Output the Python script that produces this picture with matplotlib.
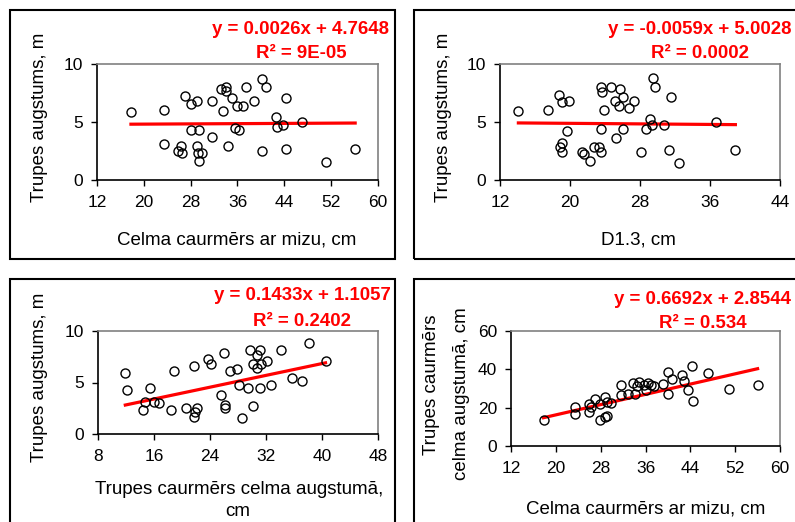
from matplotlib import pyplot as plt
from matplotlib.patches import Rectangle
import numpy as np

plt.rcParams['font.family'] = ['Liberation Sans', 'DejaVu Sans']

# panel 1: celma caurmers ar mizu vs trupes augstums
p1_x = [17.8, 23.5, 23.5, 25.9, 26.3, 26.6, 27.1, 28.0, 28.0, 29.0, 29.35, 29.0, 29.3, 29.35,
        29.9, 31.6, 31.6, 33.1, 33.5, 34.1, 34.1, 34.4, 35.0, 35.5, 35.9, 36.2, 36.9, 37.5,
        38.9, 40.1, 40.2, 40.8, 42.5, 42.8, 43.8, 44.2, 44.3, 47.0, 51.1, 56.1]
p1_y = [5.82, 6.02, 3.11, 2.5, 2.97, 2.33, 7.23, 6.57, 4.32, 6.8, 4.32, 2.97, 2.33, 1.67,
        2.33, 6.8, 3.72, 7.84, 5.99, 8.04, 7.67, 2.97, 7.03, 4.5, 6.34, 4.35, 6.34, 8.01,
        6.8, 8.73, 2.54, 8.01, 5.42, 4.58, 4.75, 7.06, 2.65, 5.04, 1.58, 2.65]

# panel 2: D1.3 vs trupes augstums
p2_x = [14.1, 17.5, 18.7, 19.05, 19.9, 19.7, 19.05, 18.86, 19.05, 21.4, 21.6, 22.3, 22.7, 23.35,
        23.5, 23.5, 23.5, 23.7, 23.9, 24.7, 25.1, 25.3, 25.6, 25.7, 26.1, 26.1, 26.7, 27.3,
        28.15, 28.7, 29.1, 29.4, 29.5, 29.7, 30.7, 31.3, 31.5, 32.4, 36.7, 38.9]
p2_y = [5.91, 6.05, 7.29, 6.69, 6.83, 4.24, 3.23, 2.88, 2.39, 2.45, 2.28, 1.67, 2.88, 2.88,
        2.42, 4.41, 8.04, 7.58, 6.05, 8.04, 6.83, 3.63, 6.34, 7.84, 7.12, 4.41, 6.22, 6.83,
        2.42, 4.41, 5.30, 4.73, 8.76, 8.01, 4.73, 2.59, 7.12, 1.50, 4.99, 2.59]

# panel 3: trupes caurmers celma augstuma vs trupes augstums
p3_x = [11.9, 12.2, 14.4, 14.7, 15.4, 16.0, 16.7, 18.4, 18.9, 20.5, 21.7, 21.8, 21.7, 22.2,
        23.7, 24.2, 25.6, 25.95, 26.2, 26.2, 26.9, 27.8, 28.2, 28.5, 29.4, 29.7, 30.1, 30.1,
        30.7, 30.7, 31.2, 31.3, 31.2, 32.1, 32.7, 34.2, 35.7, 37.2, 38.1, 40.5]
p3_y = [5.97, 4.26, 2.35, 3.13, 4.42, 3.13, 3.0, 2.35, 6.13, 2.55, 6.65, 2.16, 1.68, 2.55,
        7.32, 6.81, 3.77, 7.84, 2.81, 2.55, 6.1, 6.29, 4.74, 1.55, 4.42, 8.13, 6.84, 2.74,
        7.68, 6.42, 8.13, 6.84, 4.42, 7.13, 4.74, 8.13, 5.45, 5.13, 8.84, 7.13]

# panel 4: celma caurmers ar mizu vs trupes caurmers celma augstuma
p4_x = [17.8, 23.5, 23.5, 26.0, 26.0, 26.3, 26.9, 27.9, 27.8, 28.8, 28.7, 29.2, 29.2, 29.8,
        31.6, 31.6, 32.9, 33.8, 34.2, 34.4, 34.8, 35.7, 36.1, 36.4, 37.0, 37.5, 39.1, 40.0,
        40.1, 40.7, 42.6, 42.8, 43.5, 44.3, 44.4, 47.2, 50.9, 56.0]
p4_y = [13.4, 20.2, 16.7, 21.7, 17.9, 20.2, 24.5, 13.6, 21.7, 25.4, 15.1, 15.7, 22.8, 22.4,
        31.8, 26.6, 27.0, 32.7, 27.0, 31.5, 33.6, 31.8, 29.2, 32.7, 31.8, 31.1, 32.3, 38.8,
        27.1, 34.8, 37.0, 33.9, 29.2, 41.9, 23.7, 38.3, 29.7, 31.7]

slopes = [0.0026, -0.0059, 0.1433, 0.6692]
intercepts = [4.7648, 5.0028, 1.1057, 2.8544]
eq_line = ["y = 0.0026x + 4.7648", "y = -0.0059x + 5.0028",
           "y = 0.1433x + 1.1057", "y = 0.6692x + 2.8544"]
r2_line = ["R² = 9E-05", "R² = 0.0002", "R² = 0.2402", "R² = 0.534"]
xlabels = [["Celma caurmērs ar mizu, cm"], ["D1.3, cm"],
           ["Trupes caurmērs celma augstumā,", "cm"], ["Celma caurmērs ar mizu, cm"]]
ylabels = [["Trupes augstums, m"], ["Trupes augstums, m"],
           ["Trupes augstums, m"], ["Trupes caurmērs", "celma augstumā, cm"]]
xticks = [np.arange(12, 61, 8), np.arange(12, 45, 8), np.arange(8, 49, 8), np.arange(12, 61, 8)]
yticks = [[0, 5, 10], [0, 5, 10], [0, 5, 10], [0, 20, 40, 60]]

W, H = 795, 522
fig = plt.figure(figsize=(7.95, 5.22), dpi=100)

# plot areas in pixels: left, top, right, bottom
boxes = [(97, 64, 378, 180), (500, 64, 780, 180), (98, 331, 378, 434), (511, 331, 780, 446)]
frames = [(10, 10, 395, 259), (414, 10, 820, 259), (10, 279, 395, 540), (414, 279, 820, 540)]
eq_pos = [(301, 30, 53), (700, 30, 53), (302, 295, 321), (703, 299, 324)]
xl_pos = [[(237, 240)], [(638, 240)], [(239, 489), (238, 512)], [(646, 509)]]
yl_pos = [[(40, 117)], [(443, 117)], [(40, 377)], [(432, 385), (461, 394)]]

data = [(p1_x, p1_y), (p2_x, p2_y), (p3_x, p3_y), (p4_x, p4_y)]

for i in range(4):
    fl, ft, fr, fb = frames[i]
    fig.patches.append(Rectangle((fl / W, 1 - fb / H), (fr - fl) / W, (fb - ft) / H,
                                 transform=fig.transFigure, fill=False, ec='black', lw=1.5))
    l, t, r, b = boxes[i]
    ax = fig.add_axes([l / W, 1 - b / H, (r - l) / W, (b - t) / H])
    xs, ys = data[i]
    ax.plot(xs, ys, 'o', ms=6.5, mfc='none', mec='black', mew=1.0, zorder=3)
    xx = np.array([min(xs), max(xs)])
    ax.plot(xx, slopes[i] * xx + intercepts[i], color='#ff0000', lw=2.3, zorder=2)
    ax.set_xlim(xticks[i][0], xticks[i][-1])
    ax.set_ylim(yticks[i][0], yticks[i][-1])
    ax.set_xticks(xticks[i])
    ax.set_yticks(yticks[i])
    ax.tick_params(labelsize=12.5, length=4, width=1, direction='out', colors='black')
    ax.tick_params(axis='x', pad=7)
    ax.tick_params(axis='y', pad=6)
    for s in ['top', 'right']:
        ax.spines[s].set_color('#808080')
        ax.spines[s].set_linewidth(1.2)
    for s in ['left', 'bottom']:
        ax.spines[s].set_linewidth(1.2)
    for txt, (px, py) in zip(xlabels[i], xl_pos[i]):
        fig.text(px / W, 1 - py / H, txt, ha='center', va='center', fontsize=13.5)
    for txt, (px, py) in zip(ylabels[i], yl_pos[i]):
        fig.text(px / W, 1 - py / H, txt, ha='center', va='center', fontsize=13.5, rotation=90)
    ex, ey1, ey2 = eq_pos[i]
    fig.text(ex / W, 1 - ey1 / H, eq_line[i], ha='center', va='center',
             fontsize=13.4, fontweight='bold', color='#ff0000')
    fig.text(ex / W, 1 - ey2 / H, r2_line[i], ha='center', va='center',
             fontsize=13.4, fontweight='bold', color='#ff0000')

plt.savefig('out.png', dpi=100)
